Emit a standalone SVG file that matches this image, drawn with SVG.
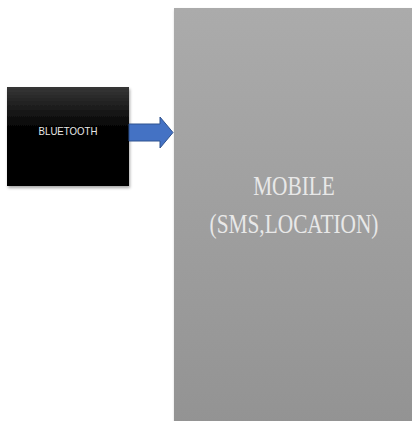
<svg xmlns="http://www.w3.org/2000/svg" width="412" height="421" viewBox="0 0 412 421">
<style>
.lbl{fill:#e8e8e8;text-anchor:middle}
.serif{font-family:"Liberation Serif","Times New Roman",serif}
.sans{font-family:"Liberation Sans",Arial,sans-serif}
</style>
<defs>
<linearGradient id="gMob" x1="0" y1="0" x2="0" y2="1">
<stop offset="0" stop-color="#ababab"/>
<stop offset="1" stop-color="#939393"/>
</linearGradient>
<linearGradient id="gBt" x1="0" y1="0" x2="0" y2="1">
<stop offset="0" stop-color="#363636"/>
<stop offset="0.4" stop-color="#050505"/>
<stop offset="1" stop-color="#000"/>
</linearGradient>
<filter id="sh" x="-10%" y="-10%" width="130%" height="130%">
<feDropShadow dx="1" dy="2" stdDeviation="1.5" flood-color="#000" flood-opacity="0.35"/>
</filter>
</defs>
<rect width="412" height="421" fill="#fff"/>
<g id="mobile">
<rect x="174" y="8" width="240" height="416" fill="url(#gMob)" filter="url(#sh)"/>
<text class="lbl serif" font-size="27" transform="translate(294,195) scale(0.79,1)">MOBILE</text>
<text class="lbl serif" font-size="27" transform="translate(294,233) scale(0.79,1)">(SMS,LOCATION)</text>
</g>
<g id="bluetooth">
<rect x="7" y="87" width="122" height="99" fill="url(#gBt)" filter="url(#sh)"/>
<text class="lbl sans" font-size="10.5" transform="translate(68,135) scale(0.92,1)">BLUETOOTH</text>
</g>
<g id="connectors">
<path d="M129,124 H160 V117 L173,132.5 L160,148 V141 H129 Z" fill="#4472c4" stroke="#2f528f" stroke-width="1"/>
</g>
</svg>
